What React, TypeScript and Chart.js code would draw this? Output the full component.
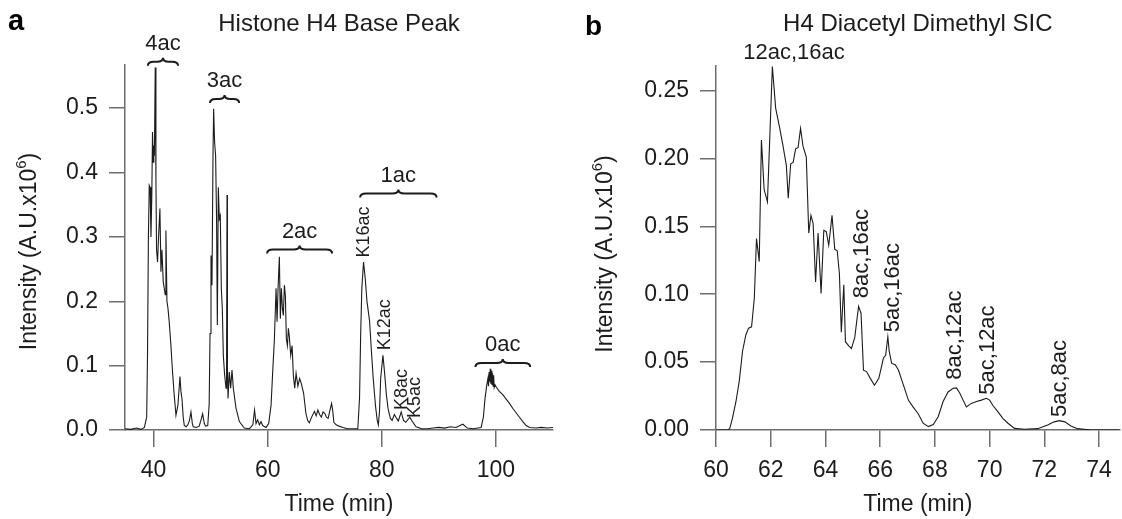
import React, { useEffect, useRef } from 'react';
import { Chart, registerables } from 'chart.js';

Chart.register(...registerables);

const FONT = '"Liberation Sans", Arial, Helvetica, sans-serif';
const INK = '#1c1c1c';
const AXIS = '#6e6e6e';

// ---------------- Panel a: Histone H4 Base Peak ----------------
const aTime = [
  35.0, 36.0, 37.0, 37.8, 38.4, 38.8, 38.95, 39.1, 39.25, 39.4, 39.55, 39.7, 39.82, 39.95, 40.05, 40.15, 40.3,
  40.42, 40.53, 40.7, 40.88, 41.12, 41.3, 41.47, 41.7, 41.88, 42.05, 42.17, 42.35, 42.53, 42.75, 43.05, 43.33,
  43.63, 43.93, 44.28, 44.63, 44.8, 44.98, 45.2, 45.39, 45.7, 46.0, 46.3, 46.56, 46.8, 46.96, 47.5, 48.0, 48.3,
  48.6, 48.9, 49.1, 49.5, 49.75, 49.9, 50.07, 50.24, 50.42, 50.53, 50.7, 50.88, 51.05, 51.18, 51.35, 51.53,
  51.7, 51.88, 52.05, 52.23, 52.46, 52.7, 52.8, 52.88, 52.95, 53.05, 53.28, 53.51, 53.75, 53.98, 54.45, 55.04,
  55.9, 56.8, 57.4, 57.7, 57.96, 58.25, 58.54, 58.84, 59.12, 59.72, 60.18, 60.6, 60.88, 61.18, 61.47, 61.65,
  61.82, 62.05, 62.22, 62.4, 62.58, 62.75, 62.93, 63.1, 63.28, 63.46, 63.63, 63.8, 64.04, 64.28, 64.5, 64.74,
  64.98, 65.3, 65.6, 65.9, 66.3, 66.7, 67.0, 67.3, 67.7, 68.2, 68.5, 68.8, 69.1, 69.4, 69.7, 70.0, 70.3, 70.6,
  70.9, 71.2, 71.4, 71.6, 72.0, 72.5, 73.2, 74.0, 75.0, 75.8, 76.1, 76.3, 76.5, 76.8, 77.1, 77.4, 77.85, 78.2,
  78.5, 78.9, 79.2, 79.4, 79.6, 79.8, 80.2, 80.5, 80.8, 81.1, 81.5, 81.8, 82.2, 82.6, 82.9, 83.4, 83.8, 84.2,
  84.9, 85.3, 86.0, 87.0, 88.0, 89.0, 90.0, 91.0, 92.0, 93.0, 94.2, 95.0, 96.0, 97.4, 97.8, 98.1, 98.4, 98.6,
  98.7, 98.8, 98.9, 99.0, 99.1, 99.2, 99.3, 99.4, 99.5, 99.6, 99.7, 99.85, 100.1, 100.6, 101.2, 101.8, 102.4,
  103.0, 103.6, 104.2, 104.7, 105.3, 105.9, 107.0, 108.0, 109.0, 110.0,
];
const aIntensity = [
  0.002, 0.001, 0.003, 0.001, 0.004, 0.02, 0.12, 0.3, 0.38, 0.377, 0.3, 0.365, 0.463, 0.416, 0.442, 0.426, 0.563,
  0.39, 0.28, 0.261, 0.3, 0.344, 0.246, 0.28, 0.23, 0.22, 0.21, 0.31, 0.2, 0.189, 0.168, 0.131, 0.09,
  0.054, 0.023, 0.039, 0.083, 0.06, 0.049, 0.02, 0.007, 0.005, 0.008, 0.015, 0.028, 0.01, 0.005, 0.004, 0.006, 0.015,
  0.025, 0.01, 0.006, 0.007, 0.04, 0.15, 0.271, 0.225, 0.426, 0.499, 0.447, 0.426, 0.323, 0.163, 0.377, 0.328,
  0.333, 0.22, 0.189, 0.116, 0.085, 0.065, 0.1, 0.365, 0.1, 0.049, 0.09, 0.065, 0.093, 0.065, 0.034, 0.013,
  0.003, 0.002, 0.008, 0.031, 0.01, 0.016, 0.008, 0.013, 0.007, 0.004, 0.01, 0.039, 0.09, 0.141, 0.22, 0.168,
  0.22, 0.269, 0.173, 0.22, 0.189, 0.178, 0.225, 0.209, 0.141, 0.131, 0.158, 0.145, 0.116, 0.131, 0.085, 0.065,
  0.088, 0.068, 0.08, 0.072, 0.057, 0.026, 0.015, 0.011, 0.02, 0.029, 0.022, 0.031, 0.024, 0.02, 0.028, 0.026, 0.02, 0.018,
  0.03, 0.041, 0.03, 0.012, 0.008, 0.006, 0.004, 0.002, 0.002, 0.002, 0.05, 0.15, 0.22, 0.261, 0.235, 0.2, 0.17, 0.12,
  0.08, 0.037, 0.015, 0.008, 0.03, 0.08, 0.116, 0.088, 0.055, 0.033, 0.018, 0.015, 0.024, 0.018, 0.014, 0.028, 0.015, 0.012,
  0.02, 0.014, 0.005, 0.002, 0.002, 0.003, 0.004, 0.003, 0.005, 0.004, 0.009, 0.003, 0.002, 0.004, 0.02, 0.05, 0.07, 0.08,
  0.068, 0.09, 0.075, 0.095, 0.072, 0.092, 0.07, 0.088, 0.068, 0.085, 0.066, 0.07, 0.066, 0.06, 0.055, 0.048, 0.041,
  0.033, 0.026, 0.019, 0.013, 0.007, 0.004, 0.003, 0.004, 0.003, 0.004,
];
const aXTicks = [40, 60, 80, 100];
const aYTicks = [0, 0.1, 0.2, 0.3, 0.4, 0.5];
const aBraceLabels = ['4ac', '3ac', '2ac', '1ac', '0ac'];
const aBraceStart = [39.0, 49.9, 59.9, 76.2, 96.4];
const aBraceEnd = [44.3, 55.0, 71.3, 89.6, 106.0];
const aBraceLevel = [0.566, 0.508, 0.274, 0.361, 0.098];
const aPeakLabels = ['K16ac', 'K12ac', 'K8ac', 'K5ac'];
const aPeakTime = [76.8, 80.6, 83.6, 85.9];
const aPeakLevel = [0.268, 0.124, 0.031, 0.0186];

// ---------------- Panel b: H4 Diacetyl Dimethyl SIC ----------------
const bTime = [
  60.0, 60.42, 60.5, 60.6, 60.73, 60.85, 60.97, 61.09, 61.19, 61.3, 61.4, 61.48, 61.58, 61.66, 61.76, 61.88,
  62.06, 62.18, 62.33, 62.45, 62.57, 62.64, 62.73, 62.82, 62.91, 63.0, 63.09, 63.18, 63.3, 63.39, 63.47, 63.55,
  63.64, 63.73, 63.84, 63.94, 64.03, 64.12, 64.24, 64.34, 64.43, 64.51, 64.58, 64.67, 64.73, 64.85, 64.95, 65.07,
  65.21, 65.3, 65.39, 65.5, 65.64, 65.79, 65.95, 66.12, 66.2, 66.28, 66.33, 66.42, 66.55, 66.67, 66.85, 67.03,
  67.2, 67.39, 67.57, 67.76, 67.94, 68.12, 68.3, 68.48, 68.67, 68.79, 68.91, 69.03, 69.15, 69.33, 69.52, 69.7,
  69.88, 70.0, 70.12, 70.3, 70.48, 70.67, 70.91, 71.27, 71.76, 72.12, 72.36, 72.55, 72.75, 72.97, 73.21, 73.7, 74.75,
];
const bIntensity = [
  0.0, 0.0, 0.001, 0.0086, 0.021, 0.036, 0.058, 0.07, 0.075, 0.076, 0.097, 0.141, 0.124, 0.2135, 0.177, 0.168,
  0.2676, 0.237, 0.222, 0.209, 0.195, 0.1706, 0.196, 0.197, 0.207, 0.208, 0.222, 0.209, 0.201, 0.145, 0.158, 0.152,
  0.109, 0.145, 0.1006, 0.147, 0.146, 0.136, 0.158, 0.133, 0.132, 0.115, 0.072, 0.107, 0.065, 0.062, 0.06, 0.068,
  0.091, 0.086, 0.044, 0.043, 0.038, 0.033, 0.038, 0.053, 0.055, 0.0687, 0.058, 0.049, 0.048, 0.044, 0.033, 0.022,
  0.017, 0.012, 0.005, 0.0025, 0.004, 0.0098, 0.021, 0.028, 0.0307, 0.031, 0.027, 0.022, 0.017, 0.0196, 0.021, 0.022,
  0.0233, 0.022, 0.018, 0.0135, 0.0086, 0.005, 0.0012, 0.0005, 0.001, 0.0037, 0.006, 0.0069, 0.006, 0.003, 0.001, 0.0, 0.0,
];
const bXTicks = [60, 62, 64, 66, 68, 70, 72, 74];
const bYTicks = [0, 0.05, 0.1, 0.15, 0.2, 0.25];
const bTopLabel = '12ac,16ac';
const bTopTime = 62.85;
const bTopLevel = 0.2776;
const bPeakLabels = ['8ac,16ac', '5ac,16ac', '8ac,12ac', '5ac,12ac', '5ac,8ac'];
const bPeakTime = [65.32, 66.48, 68.72, 69.94, 72.56];
const bPeakLevel = [0.097, 0.072, 0.037, 0.026, 0.0096];

function drawBrace(ctx: CanvasRenderingContext2D, x1: number, x2: number, y: number, h: number) {
  const mid = (x1 + x2) / 2;
  const r = Math.min(6, (x2 - x1) / 5);
  const yb = y - h / 2;
  ctx.beginPath();
  ctx.moveTo(x1, y);
  ctx.quadraticCurveTo(x1, yb, x1 + r, yb);
  ctx.lineTo(mid - r, yb);
  ctx.quadraticCurveTo(mid, yb, mid, y - h);
  ctx.quadraticCurveTo(mid, yb, mid + r, yb);
  ctx.lineTo(x2 - r, yb);
  ctx.quadraticCurveTo(x2, yb, x2, y);
  ctx.stroke();
}

function drawRotated(ctx: CanvasRenderingContext2D, text: string, x: number, yBottom: number, size: number) {
  ctx.save();
  ctx.translate(x, yBottom);
  ctx.rotate(-Math.PI / 2);
  ctx.font = `${size}px ${FONT}`;
  ctx.textAlign = 'left';
  ctx.textBaseline = 'middle';
  ctx.fillStyle = INK;
  ctx.fillText(text, 0, 0);
  ctx.restore();
}

function drawYTitle(ctx: CanvasRenderingContext2D, baselineX: number, cy: number) {
  const main = 'Intensity (A.U.x10';
  const sup = '6';
  const tail = ')';
  ctx.save();
  ctx.translate(baselineX, cy);
  ctx.rotate(-Math.PI / 2);
  ctx.fillStyle = INK;
  ctx.textAlign = 'left';
  ctx.textBaseline = 'alphabetic';
  ctx.font = `23px ${FONT}`;
  const w1 = ctx.measureText(main).width;
  const w3 = ctx.measureText(tail).width;
  ctx.font = `15px ${FONT}`;
  const w2 = ctx.measureText(sup).width;
  let x = -(w1 + w2 + w3) / 2;
  ctx.font = `23px ${FONT}`;
  ctx.fillText(main, x, 0);
  x += w1;
  ctx.font = `15px ${FONT}`;
  ctx.fillText(sup, x, -10);
  x += w2;
  ctx.font = `23px ${FONT}`;
  ctx.fillText(tail, x, 0);
  ctx.restore();
}

function drawLetter(ctx: CanvasRenderingContext2D, letter: string, x: number, y: number, size: number) {
  ctx.save();
  ctx.font = `bold ${size}px ${FONT}`;
  ctx.fillStyle = '#000';
  ctx.textAlign = 'left';
  ctx.textBaseline = 'alphabetic';
  ctx.fillText(letter, x, y);
  ctx.restore();
}

const annotA = {
  id: 'annotA',
  afterDraw(chart: any) {
    const { ctx, scales, chartArea } = chart;
    const xs = scales.x;
    const ys = scales.y;
    ctx.save();
    ctx.strokeStyle = INK;
    ctx.lineWidth = 2;
    ctx.fillStyle = INK;
    aBraceLabels.forEach((lab, i) => {
      const x1 = xs.getPixelForValue(aBraceStart[i]);
      const x2 = xs.getPixelForValue(aBraceEnd[i]);
      const y = ys.getPixelForValue(aBraceLevel[i]);
      drawBrace(ctx, x1, x2, y, 8);
      ctx.font = `22px ${FONT}`;
      ctx.textAlign = 'center';
      ctx.textBaseline = 'middle';
      ctx.fillText(lab, (x1 + x2) / 2, y - 22);
    });
    ctx.restore();
    aPeakLabels.forEach((lab, i) => {
      drawRotated(ctx, lab, xs.getPixelForValue(aPeakTime[i]), ys.getPixelForValue(aPeakLevel[i]), 18);
    });
    drawYTitle(ctx, 36, (chartArea.top + chartArea.bottom) / 2 + 4);
    drawLetter(ctx, 'a', 8, 30, 29);
  },
};

const annotB = {
  id: 'annotB',
  afterDraw(chart: any) {
    const { ctx, scales, chartArea } = chart;
    const xs = scales.x;
    const ys = scales.y;
    ctx.save();
    ctx.fillStyle = INK;
    ctx.font = `22px ${FONT}`;
    ctx.textAlign = 'center';
    ctx.textBaseline = 'middle';
    ctx.fillText(bTopLabel, xs.getPixelForValue(bTopTime), ys.getPixelForValue(bTopLevel));
    ctx.restore();
    bPeakLabels.forEach((lab, i) => {
      drawRotated(ctx, lab, xs.getPixelForValue(bPeakTime[i]), ys.getPixelForValue(bPeakLevel[i]), 22);
    });
    drawYTitle(ctx, 52, (chartArea.top + chartArea.bottom) / 2 + 6);
    drawLetter(ctx, 'b', 25, 35, 28);
  },
};

function makeConfig(opts: {
  time: number[];
  values: number[];
  xMin: number;
  xMax: number;
  yMax: number;
  xTicks: number[];
  yTicks: number[];
  yDigits: number;
  yWidth: number;
  title: string;
  rightPad: number;
  titleBottom: number;
  plugin: any;
}): any {
  return {
    type: 'line',
    data: {
      datasets: [
        {
          data: opts.time.map((t, i) => ({ x: t, y: opts.values[i] })),
          borderColor: INK,
          borderWidth: 1.1,
          pointRadius: 0,
          fill: false,
          tension: 0,
        },
      ],
    },
    options: {
      responsive: false,
      animation: false,
      devicePixelRatio: 1,
      layout: { padding: { top: 0, right: opts.rightPad, bottom: 0, left: 0 } },
      plugins: {
        legend: { display: false },
        tooltip: { enabled: false },
        title: {
          display: true,
          text: opts.title,
          fullSize: false,
          color: INK,
          font: { family: FONT, size: 24, weight: 'normal' },
          padding: { top: 9.6, bottom: opts.titleBottom },
        },
      },
      scales: {
        x: {
          type: 'linear',
          min: opts.xMin,
          max: opts.xMax,
          afterBuildTicks: (s: any) => {
            s.ticks = opts.xTicks.map((v) => ({ value: v }));
          },
          afterFit: (s: any) => {
            s.height = 89;
          },
          grid: { display: true, drawOnChartArea: false, drawTicks: true, tickLength: 17, color: AXIS, lineWidth: 1.5 },
          border: { display: true, color: AXIS, width: 1.5 },
          ticks: {
            color: INK,
            font: { family: FONT, size: 23 },
            padding: 10,
            maxRotation: 0,
            autoSkip: false,
            callback: (v: any) => String(v),
          },
          title: {
            display: true,
            text: 'Time (min)',
            color: INK,
            font: { family: FONT, size: 23 },
            padding: { top: 0, bottom: 1 },
          },
        },
        y: {
          type: 'linear',
          min: 0,
          max: opts.yMax,
          afterBuildTicks: (s: any) => {
            s.ticks = opts.yTicks.map((v) => ({ value: v }));
          },
          afterFit: (s: any) => {
            s.width = opts.yWidth;
          },
          grid: { display: true, drawOnChartArea: false, drawTicks: true, tickLength: 16, color: AXIS, lineWidth: 1.5 },
          border: { display: true, color: AXIS, width: 1.5 },
          ticks: {
            color: INK,
            font: { family: FONT, size: 23 },
            padding: 11,
            autoSkip: false,
            callback: (v: any) => Number(v).toFixed(opts.yDigits),
          },
        },
      },
    },
    plugins: [opts.plugin],
  };
}

export default function App() {
  const refA = useRef<HTMLCanvasElement>(null);
  const refB = useRef<HTMLCanvasElement>(null);

  useEffect(() => {
    const chartA = new Chart(
      refA.current as HTMLCanvasElement,
      makeConfig({
        time: aTime,
        values: aIntensity,
        xMin: 35,
        xMax: 110,
        yMax: 0.567,
        xTicks: aXTicks,
        yTicks: aYTicks,
        yDigits: 1,
        yWidth: 125,
        title: 'Histone H4 Base Peak',
        rightPad: 7,
        titleBottom: 26.6,
        plugin: annotA,
      })
    );
    const chartB = new Chart(
      refB.current as HTMLCanvasElement,
      makeConfig({
        time: bTime,
        values: bIntensity,
        xMin: 60,
        xMax: 74.75,
        yMax: 0.268,
        xTicks: bXTicks,
        yTicks: bYTicks,
        yDigits: 2,
        yWidth: 156,
        title: 'H4 Diacetyl Dimethyl SIC',
        rightPad: 0,
        titleBottom: 27.6,
        plugin: annotB,
      })
    );
    return () => {
      chartA.destroy();
      chartB.destroy();
    };
  }, []);

  return (
    <div style={{ position: 'fixed', left: 0, top: 0, width: 1122, height: 519, background: '#fff' }}>
      <canvas ref={refA} width={560} height={519} style={{ position: 'absolute', left: 0, top: 0, width: 560, height: 519 }} />
      <canvas ref={refB} width={562} height={519} style={{ position: 'absolute', left: 560, top: 0, width: 562, height: 519 }} />
    </div>
  );
}
